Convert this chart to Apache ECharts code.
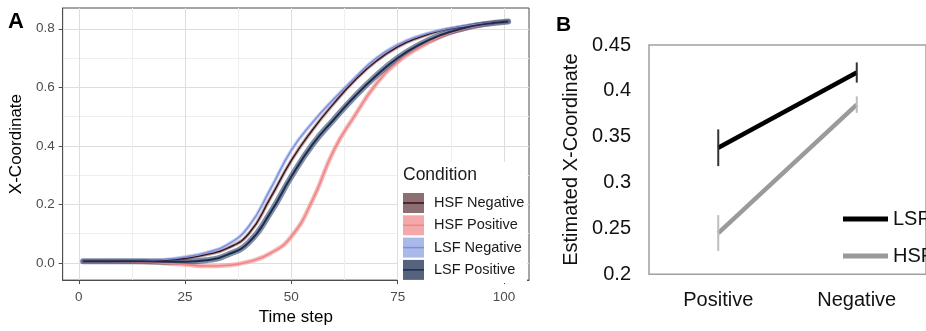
<!DOCTYPE html>
<html><head><meta charset="utf-8">
<script src="https://cdn.jsdelivr.net/npm/echarts@6/dist/echarts.min.js"></script>
<style>html,body{margin:0;padding:0;background:#fff}#c{width:926px;height:331px}</style>
</head><body><div id="c"></div>
<script>
// ---------- Panel A data ----------
const timeSteps = [1,5,10,15,20,25,30,35,40,45,50,55,60,65,70,75,80,85,90,95,101];
const conditions = ['HSF Negative','HSF Positive','LSF Negative','LSF Positive'];
const hsfNegative = [0.005,0.005,0.005,0.006,0.009,0.015,0.028,0.050,0.100,0.220,0.350,0.455,0.545,0.625,0.690,0.738,0.770,0.793,0.807,0.818,0.825];
const hsfPositive = [0.005,0.005,0.004,0.003,-0.001,-0.006,-0.011,-0.008,0.004,0.032,0.090,0.215,0.385,0.505,0.612,0.686,0.735,0.772,0.797,0.814,0.825];
const lsfNegative = [0.005,0.005,0.005,0.007,0.011,0.020,0.035,0.062,0.125,0.250,0.385,0.480,0.560,0.633,0.700,0.745,0.775,0.795,0.808,0.818,0.825];
const lsfPositive = [0.005,0.005,0.005,0.005,0.004,0.004,0.009,0.028,0.070,0.170,0.295,0.405,0.490,0.570,0.640,0.700,0.745,0.778,0.800,0.815,0.825];
const xTicksA = [0,25,50,75,100];
const xMinorA = [12.5,37.5,62.5,87.5];
const yTicksA = [0,0.2,0.4,0.6,0.8];
const yMinorA = [0.1,0.3,0.5,0.7];

// ---------- Panel B data ----------
const valenceCats = ['Positive','Negative'];
const lsfMean = [0.338,0.420];
const lsfErr = [0.020,0.011];
const hsfMean = [0.245,0.385];
const hsfErr = [0.0195,0.009];
const bSeriesNames = ['LSF','HSF'];

// ---------- styles ----------
const FONT = '"Liberation Sans", Arial, sans-serif';
const lineColors = ['#3d1018','#f08585','#7c8fdc','#1b2c4e'];
const ribbonColors = ['rgba(120,80,85,0.5)','rgba(240,150,150,0.65)','rgba(150,170,230,0.6)','rgba(45,65,105,0.6)'];
const ribbonWidths = [3.5,4.5,3.5,6];
const keyFills = ['#8b6f73','#f3a9a9','#aab8ea','#56637f'];
const lineWidths = [1.4,1.6,1.4,2];

const valuesA = [hsfNegative,hsfPositive,lsfNegative,lsfPositive];
const series = [];
const SMOOTH = 0.5;
conditions.forEach((name,i)=>{
  series.push({type:'line', name:name+' ribbon', xAxisIndex:0, yAxisIndex:0, symbol:'none', smooth:SMOOTH, silent:true,
    data: timeSteps.map((t,k)=>[t, valuesA[i][k]]), lineStyle:{color:ribbonColors[i], width:ribbonWidths[i], cap:'round'}, z:2});
});
conditions.forEach((name,i)=>{
  series.push({type:'line', name:name, xAxisIndex:0, yAxisIndex:0, symbol:'none', smooth:SMOOTH, silent:true,
    data: timeSteps.map((t,k)=>[t, valuesA[i][k]]), lineStyle:{color:lineColors[i], width:lineWidths[i]}, z:3});
});

// Panel B
const bMeans = [lsfMean, hsfMean];
const bErrs = [lsfErr, hsfErr];
const bColors = ['#000000','#9a9a9a'];
const bErrColors = ['#333333','#bdbdbd'];
bSeriesNames.forEach((name,i)=>{
  series.push({type:'line', name:name, xAxisIndex:2, yAxisIndex:2, color:bColors[i], symbol:'none', silent:true,
    data: bMeans[i], lineStyle:{color:bColors[i], width:4.5}, z:3});
  series.push({type:'custom', name:name+' err', xAxisIndex:2, yAxisIndex:2, silent:true, z:4,
    data: valenceCats.map((c,k)=>[k, bMeans[i][k]-bErrs[i][k], bMeans[i][k]+bErrs[i][k]]),
    encode:{x:0, y:[1,2]},
    renderItem:(params, api)=>{
      const p1 = api.coord([api.value(0), api.value(1)]);
      const p2 = api.coord([api.value(0), api.value(2)]);
      return {type:'line', shape:{x1:p1[0], y1:p1[1], x2:p2[0], y2:p2[1]}, style:{stroke:bErrColors[i], lineWidth:2}};
    }});
});

// Panel A legend (graphic)
const legendTop = 193, legendStep = 22.3;
const graphic = [
  {type:'text', left:8, top:11, style:{text:'A', font:'bold 22px '+FONT, fill:'#000'}},
  {type:'text', left:556, top:15, style:{text:'B', font:'bold 21px '+FONT, fill:'#000'}},
  {type:'rect', shape:{x:398, y:162, width:129, height:121}, style:{fill:'#fff'}, z:100},
  {type:'text', x:403, y:166, z:101, style:{text:'Condition', font:'17.5px '+FONT, fill:'#1a1a1a'}}
];
conditions.forEach((name,i)=>{
  const y = legendTop + i*legendStep;
  graphic.push({type:'rect', z:101, shape:{x:403, y:y, width:21, height:20}, style:{fill:keyFills[i]}});
  graphic.push({type:'line', z:102, shape:{x1:403, y1:y+10, x2:424, y2:y+10}, style:{stroke:lineColors[i], lineWidth:1.5}});
  graphic.push({type:'text', z:101, x:434, y:y+10, style:{text:name, font:'14.5px '+FONT, fill:'#1a1a1a', verticalAlign:'middle'}});
});

const option = {
  animation:false,
  backgroundColor:'#fff',
  textStyle:{fontFamily:FONT},
  grid:[
    {left:61, top:8, width:468, height:279, show:true, borderColor:'#4d4d4d', borderWidth:1, backgroundColor:'#fff'},
    {left:649, top:45, width:284, height:229.3, show:true, borderColor:'#a0a0a0', borderWidth:1.5, backgroundColor:'#fff'}
  ],
  xAxis:[
    {type:'value', gridIndex:0, min:-3.8, max:105.9,
      axisLine:{show:true, onZero:false, lineStyle:{color:'#4d4d4d'}},
      axisTick:{show:true, length:4, customValues:xTicksA, lineStyle:{color:'#4d4d4d'}},
      axisLabel:{customValues:xTicksA, color:'#4d4d4d', fontSize:13.5, margin:10, fontFamily:FONT},
      splitLine:{show:true, lineStyle:{color:'#dedede', width:1}},
      name:'Time step', nameLocation:'middle', nameGap:27, nameTextStyle:{fontSize:17, color:'#000', fontFamily:FONT}},
    {type:'value', gridIndex:0, min:-3.8, max:105.9, position:'bottom',
      axisLine:{show:false, onZero:false}, axisTick:{show:false, customValues:xMinorA}, axisLabel:{show:false, customValues:xMinorA},
      splitLine:{show:true, lineStyle:{color:'#efefef', width:1}}},
    {type:'category', gridIndex:1, data:valenceCats, boundaryGap:true,
      axisLine:{show:false}, axisTick:{show:false},
      axisLabel:{fontSize:20, color:'#111', margin:16, fontFamily:FONT}, splitLine:{show:false}}
  ],
  yAxis:[
    {type:'value', gridIndex:0, min:-0.059, max:0.871,
      axisLine:{show:true, onZero:false, lineStyle:{color:'#4d4d4d'}},
      axisTick:{show:true, length:4, customValues:yTicksA, lineStyle:{color:'#4d4d4d'}},
      axisLabel:{customValues:yTicksA, color:'#4d4d4d', fontSize:13.5, margin:8, fontFamily:FONT, formatter:v=>Number(v).toFixed(1)},
      splitLine:{show:true, lineStyle:{color:'#dedede', width:1}},
      name:'X-Coordinate', nameLocation:'middle', nameGap:30, nameTextStyle:{fontSize:17, color:'#000', fontFamily:FONT}},
    {type:'value', gridIndex:0, min:-0.059, max:0.871, position:'left',
      axisLine:{show:false, onZero:false}, axisTick:{show:false, customValues:yMinorA}, axisLabel:{show:false, customValues:yMinorA},
      splitLine:{show:true, lineStyle:{color:'#efefef', width:1}}},
    {type:'value', gridIndex:1, min:0.2, max:0.45, interval:0.05,
      axisLine:{show:false}, axisTick:{show:false}, splitLine:{show:false},
      axisLabel:{fontSize:20, color:'#111', margin:18, fontFamily:FONT},
      name:'Estimated X-Coordinate', nameLocation:'middle', nameGap:68, nameTextStyle:{fontSize:20, color:'#111', fontFamily:FONT}}
  ],
  legend:{data:bSeriesNames, orient:'vertical', left:838, top:204, icon:'rect', itemWidth:45, itemHeight:5, itemGap:17,
    selectedMode:false, textStyle:{fontSize:20, color:'#111', fontFamily:FONT}},
  graphic:graphic,
  series:series
};
const chart = echarts.init(document.getElementById('c'), null, {renderer:'canvas'});
chart.setOption(option);
</script></body></html>
